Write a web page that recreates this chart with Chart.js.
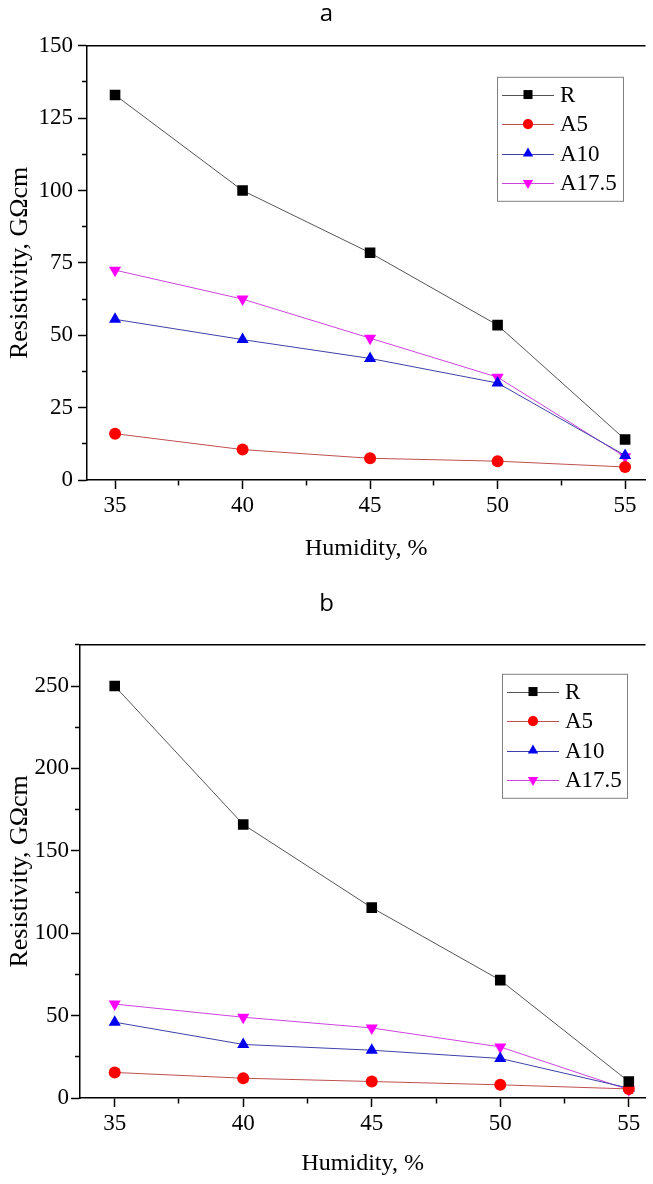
<!DOCTYPE html>
<html><head><meta charset="utf-8">
<script src="https://cdn.jsdelivr.net/npm/chart.js@4/dist/chart.umd.min.js"></script>
<style>
html,body{margin:0;padding:0;background:#fff;}
#wa{position:absolute;left:0;top:0;width:653px;height:590px;}
#wb{position:absolute;left:0;top:590px;width:653px;height:594px;}
</style></head><body>
<div id="wa"><canvas id="ca"></canvas></div>
<div id="wb"><canvas id="cb"></canvas></div>
<script>
const humidity = [35, 40, 45, 50, 55];
const seriesNames = ['R', 'A5', 'A10', 'A17.5'];
const aR = [133, 100, 78.5, 53.5, 14];
const aA5 = [16, 10.5, 7.5, 6.5, 4.5];
const aA10 = [55.5, 48.5, 42, 33.5, 8.5];
const aA175 = [72.5, 62.5, 49, 35.5, 8];
const bR = [250, 166, 115.5, 71.5, 10];
const bA5 = [15.5, 12, 10, 8, 5.5];
const bA10 = [46, 32.5, 29, 24, 6];
const bA175 = [57, 49, 42.5, 31, 5];
const xTickLabels = ['35', '40', '45', '50', '55'];
const aYTickLabels = ['0', '25', '50', '75', '100', '125', '150'];
const bYTickLabels = ['0', '50', '100', '150', '200', '250'];

const SERIF = '"Liberation Serif", "Times New Roman", serif';
const styles = [
  {line: '#555555', fill: '#000000', pointStyle: 'rect', radius: 7.5, rotation: 0},
  {line: '#c05050', fill: '#ff0000', pointStyle: 'circle', radius: 6, rotation: 0},
  {line: '#4040a8', fill: '#0000ee', pointStyle: 'triangle', radius: 7, rotation: 0},
  {line: '#cc44dd', fill: '#ff00ff', pointStyle: 'triangle', radius: 7, rotation: 180}
];

function pts(vals) { return humidity.map((h, i) => ({x: h, y: vals[i]})); }
function makeDatasets(lists) {
  return lists.map((vals, i) => ({
    label: seriesNames[i],
    data: pts(vals),
    borderColor: styles[i].line,
    backgroundColor: styles[i].fill,
    pointBackgroundColor: styles[i].fill,
    pointBorderColor: styles[i].fill,
    pointStyle: styles[i].pointStyle,
    pointRadius: styles[i].radius,
    pointRotation: styles[i].rotation,
    pointBorderWidth: 0,
    borderWidth: 1,
    tension: 0
  }));
}

function drawMarker(ctx, st, x, y, k) {
  ctx.fillStyle = st.fill;
  ctx.beginPath();
  const r = st.radius * k;
  if (st.pointStyle === 'rect') {
    const s = r * Math.SQRT1_2;
    ctx.rect(x - s, y - s, 2 * s, 2 * s);
  } else if (st.pointStyle === 'circle') {
    ctx.arc(x, y, r, 0, Math.PI * 2);
  } else {
    const sg = st.rotation === 180 ? -1 : 1;
    ctx.moveTo(x, y - sg * r);
    ctx.lineTo(x + r * 0.866, y + sg * r * 0.5);
    ctx.lineTo(x - r * 0.866, y + sg * r * 0.5);
    ctx.closePath();
  }
  ctx.fill();
}

const boxLegend = {
  id: 'boxLegend',
  afterDraw(chart, args, o) {
    const ctx = chart.ctx, ca = chart.chartArea;
    const x0 = o.left, y0 = ca.top + o.top;
    const n = chart.data.datasets.length;
    const h = o.padY * 2 + o.rowH * n;
    ctx.save();
    ctx.strokeStyle = '#808080';
    ctx.lineWidth = 1;
    ctx.strokeRect(x0 + 0.5, y0 + 0.5, o.width, h);
    chart.data.datasets.forEach((ds, i) => {
      const cy = y0 + o.padY + o.rowH * (i + 0.5);
      ctx.strokeStyle = ds.borderColor;
      ctx.lineWidth = 1;
      ctx.beginPath();
      ctx.moveTo(x0 + 5, Math.round(cy) + 0.5);
      ctx.lineTo(x0 + 57, Math.round(cy) + 0.5);
      ctx.stroke();
      drawMarker(ctx, styles[i], x0 + 31, cy, 0.85);
      ctx.fillStyle = '#000';
      ctx.font = '23px ' + SERIF;
      ctx.textBaseline = 'middle';
      ctx.textAlign = 'left';
      ctx.fillText(ds.label, x0 + 63, cy + 1);
    });
    ctx.restore();
  }
};

const topBorder = {
  id: 'topBorder',
  afterDraw(chart) {
    const ctx = chart.ctx, ca = chart.chartArea;
    ctx.save();
    ctx.strokeStyle = '#000';
    ctx.lineWidth = 1.5;
    ctx.beginPath();
    ctx.moveTo(ca.left, ca.top);
    ctx.lineTo(ca.right, ca.top);
    ctx.stroke();
    ctx.restore();
  }
};

function isMajor(v, labels) { return labels.includes(String(v)); }

function makeChart(id, cfg) {
  return new Chart(document.getElementById(id), {
    type: 'line',
    data: {datasets: makeDatasets(cfg.lists)},
    plugins: [boxLegend, topBorder],
    options: {
      responsive: true,
      maintainAspectRatio: false,
      animation: false,
      layout: {padding: {left: 0, right: 0, top: 0, bottom: 0}},
      plugins: {
        legend: {display: false},
        tooltip: {enabled: false},
        title: {
          display: true,
          text: cfg.title,
          color: '#000',
          font: {family: '"Open Sans", "Liberation Sans", sans-serif', size: 24, weight: 'normal', lineHeight: 1.2},
          padding: cfg.titlePad
        },
        boxLegend: cfg.legend
      },
      scales: {
        x: {
          type: 'linear',
          min: cfg.xMin, max: cfg.xMax,
          afterFit(s) { s.height = cfg.xH; },
          border: {color: '#000', width: 1.5},
          grid: {
            drawOnChartArea: false, drawTicks: true, tickLength: 9, tickColor: '#000', tickWidth: 1.5,
            tickBorderDash: c => (c.tick && isMajor(c.tick.value, xTickLabels) ? [] : [5, 100])
          },
          ticks: {
            stepSize: 2.5, includeBounds: false, autoSkip: false, maxRotation: 0,
            color: '#000', padding: 3,
            font: {family: SERIF, size: 23},
            callback: v => (isMajor(v, xTickLabels) ? String(v) : '')
          },
          title: {display: true, text: 'Humidity, %', color: '#000',
            font: {family: SERIF, size: 24}, padding: {top: 0, bottom: cfg.xTitlePad}}
        },
        y: {
          type: 'linear',
          min: 0, max: cfg.yMax,
          afterFit(s) { s.width = cfg.yW; },
          border: {color: '#000', width: 1.5},
          grid: {
            drawOnChartArea: false, drawTicks: true, tickLength: 9, tickColor: '#000', tickWidth: 1.5,
            tickBorderDash: c => (c.tick && isMajor(c.tick.value, cfg.yLabels) ? [] : [0, 4, 5, 100])
          },
          ticks: {
            stepSize: cfg.yStep, autoSkip: false, color: '#000', padding: cfg.yPad,
            font: {family: SERIF, size: 23},
            callback: v => (isMajor(v, cfg.yLabels) ? String(v) : '')
          },
          title: {display: true, text: 'Resistivity, GΩcm', color: '#000',
            font: {family: SERIF, size: 26}, padding: {top: 5, bottom: 0}}
        }
      }
    }
  });
}

makeChart('ca', {
  lists: [aR, aA5, aA10, aA175], title: 'a',
  titlePad: {top: 0, bottom: 17},
  xMin: 33.9, xMax: 55.8, xH: 110, xTitlePad: 27,
  yMax: 150, yStep: 12.5, yW: 87, yPad: 5, yLabels: aYTickLabels,
  legend: {left: 497, top: 31, width: 126, rowH: 29.5, padY: 3}
});
makeChart('cb', {
  lists: [bR, bA5, bA10, bA175], title: 'b',
  titlePad: {top: 0, bottom: 26},
  xMin: 33.65, xMax: 55.65, xH: 86, xTitlePad: 6,
  yMax: 275, yStep: 25, yW: 80, yPad: 2, yLabels: bYTickLabels,
  legend: {left: 502, top: 29, width: 125, rowH: 29.5, padY: 3}
});
</script>
</body></html>
